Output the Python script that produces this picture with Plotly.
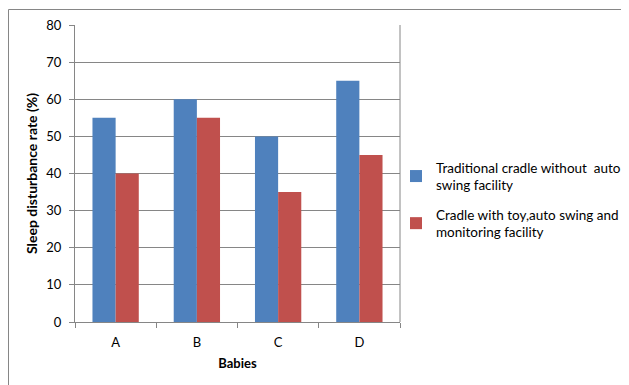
import plotly.graph_objects as go

categories = ["A", "B", "C", "D"]
traditional = [55, 60, 50, 65]
cradle_toy = [40, 55, 35, 45]
series_names = ["Traditional cradle without  auto<br>swing facility",
                "Cradle with toy,auto swing and<br>monitoring facility"]
y_ticks = [0, 10, 20, 30, 40, 50, 60, 70, 80]

FONT = "Lato"
OFF = 8  # page body margin

fig = go.Figure()
fig.add_trace(go.Bar(x=categories, y=traditional, name=series_names[0], legendgroup="g1",
                     marker=dict(color="#4F81BD", line=dict(width=0))))
fig.add_trace(go.Bar(x=categories, y=cradle_toy, name=series_names[1], legendgroup="g2",
                     marker=dict(color="#C0504D", line=dict(width=0))))

FW, FH = 629 - OFF, 385 - OFF
L, T = 75 - OFF, 25 - OFF
R = FW - (400 - OFF)
B = FH - (322 - OFF)
W, H = FW - L - R, FH - T - B
bx = (0.5 - L) / W
by = 1 + (T - 1.5) / H

fig.update_layout(
    width=FW, height=FH,
    margin=dict(l=L, r=R, t=T, b=B, autoexpand=False),
    paper_bgcolor="white", plot_bgcolor="white",
    barmode="group", bargap=0.43, bargroupgap=0,
    font=dict(family=FONT, size=12, color="#000000"),
    showlegend=True,
    legend=dict(xref="container", yref="container",
                x=(396 - OFF) / FW, y=1 - (200 - OFF) / FH, xanchor="left", yanchor="middle",
                font=dict(family=FONT, size=13.5, color="#000000"),
                tracegroupgap=9, itemwidth=30, bgcolor="rgba(0,0,0,0)",
                traceorder="grouped"),
    xaxis=dict(type="category", showline=True, linecolor="#868686", linewidth=1,
               ticks="outside", tickson="boundaries", ticklen=5, tickcolor="#868686",
               showgrid=False, tickfont=dict(family=FONT, size=13, color="#000"),
               ticklabelstandoff=8,
               title=dict(text="<b>Babies</b>", font=dict(family=FONT, size=13), standoff=10)),
    yaxis=dict(range=[0, 80], tickvals=y_ticks, showline=True, linecolor="#868686",
               linewidth=1, ticks="outside", ticklen=5, tickcolor="#868686",
               showgrid=True, gridcolor="#868686", gridwidth=1, zeroline=False,
               tickfont=dict(family=FONT, size=13, color="#000"),
               ticklabelstandoff=5,
               title=dict(text="<b>Sleep disturbance rate (%)</b>",
                          font=dict(family=FONT, size=14), standoff=5)),
    shapes=[
        dict(type="line", xref="paper", yref="paper", x0=bx, x1=1.8, y0=by, y1=by,
             line=dict(color="#868686", width=1)),
        dict(type="line", xref="paper", yref="paper", x0=bx, x1=bx, y0=by, y1=-0.5,
             line=dict(color="#868686", width=1)),
        dict(type="line", xref="paper", yref="paper", x0=1, x1=1, y0=0, y1=1,
             line=dict(color="#868686", width=1)),
    ],
)

fig.write_html("out.html")
